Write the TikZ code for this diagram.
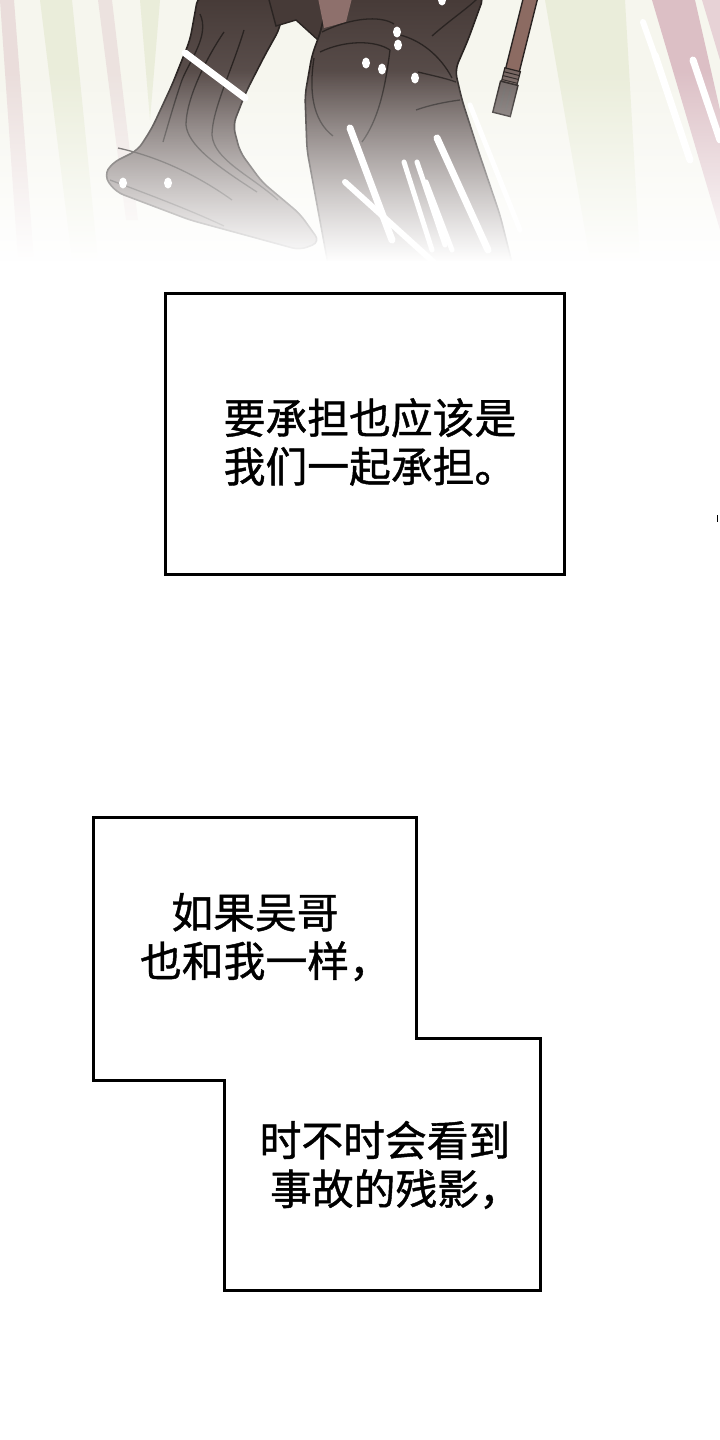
\documentclass[tikz,border=0pt]{standalone}
\usepackage{fontspec}
\newfontfamily\cjk[FakeBold=1]{Noto Sans CJK SC}
\usetikzlibrary{fadings}
\definecolor{legdark}{HTML}{463a37}
\definecolor{legmid}{HTML}{857a78}
\definecolor{inkline}{HTML}{2a2422}
\definecolor{stickbrown}{HTML}{8c6b62}
\definecolor{capgray}{HTML}{6e6462}
\definecolor{bgcream}{HTML}{f6f6ee}
\definecolor{streakpink}{HTML}{dcbfc5}
\definecolor{streakgreen}{HTML}{eaedda}
\definecolor{skinpink}{HTML}{8e706c}
\tikzfading[name=whiteout, top color=transparent!100, bottom color=transparent!0]

\begin{document}
\begin{tikzpicture}[x=1pt,y=-1pt,
  panel/.style={draw=black,line width=3pt},
  says/.style={font=\cjk\fontsize{41.8}{48.5}\selectfont,align=center,inner sep=0pt},
  leg/.style={draw=inkline,line width=1.6pt,rounded corners=8pt,top color=legdark,bottom color=legmid},
  crease/.style={draw=inkline,line width=1.3pt},
  swoosh/.style={white,line width=7pt,line cap=round},
  glint/.style={white}]
	\useasboundingbox (0,0) rectangle (720,1440);
	\fill[white] (0,0) rectangle (720,1440);
	\fill[bgcream] (0,0) rectangle (720,280);
	\fill[streakpink,opacity=.45] (0,0) -- (14,0) -- (34,260) -- (18,260) -- cycle;
	\fill[streakgreen] (40,0) -- (72,0) -- (98,260) -- (72,260) -- cycle;
	\fill[streakpink,opacity=.35] (98,0) -- (112,0) -- (138,220) -- (126,220) -- cycle;
	\fill[streakgreen] (140,0) -- (160,0) -- (150,120) -- cycle;
	\fill[streakgreen] (545,0) -- (625,0) -- (640,260) -- (590,260) -- cycle;
	\fill[streakpink] (652,0) -- (695,0) -- (720,110) -- (720,230) -- cycle;
	\fill[streakpink!70] (702,0) -- (720,0) -- (720,60) -- cycle;
	\draw[white,line width=6pt,line cap=round] (643,22) -- (660,70);
	\draw[white,line width=7pt,line cap=round] (655,55) -- (690,160);
	\draw[white,line width=7pt,line cap=round] (693,60) -- (720,140);
	\begin{scope}[shift={(531,-4)},rotate=-14]
		\filldraw[draw=inkline,fill=stickbrown,line width=1.4pt] (-7,0) rectangle (7,78);
		\filldraw[draw=inkline,fill=capgray!70!stickbrown,line width=1.2pt] (-8,76) rectangle (8,90);
		\foreach \r in {80,84,88}
			\draw[inkline,line width=1pt] (-8,\r) -- (8,\r);
		\filldraw[draw=inkline,fill=capgray,line width=1.4pt] (-9,90) rectangle (9,122);
		\draw[inkline!70,line width=2pt] (-3,95) -- (-3,116);
		\draw[inkline!70,line width=2pt] (3,95) -- (3,116);
	\end{scope}
	\filldraw[leg] (198,-4) -- (190,40) -- (172,85) -- (152,128) -- (138,150) -- (112,163) -- (104,176) -- (116,192) -- (190,220) -- (300,250) -- (320,242) -- (300,214) -- (262,182) -- (240,152) -- (233,125) -- (246,92) -- (265,55) -- (280,28) -- (284,-4) -- cycle;
	\filldraw[draw=inkline,line width=1.4pt,fill=legdark] (268,-4) -- (276,26) -- (296,20) -- (318,40) -- (330,-4) -- cycle;
	\filldraw[leg] (326,-4) -- (322,28) -- (312,55) -- (305,95) -- (307,150) -- (318,210) -- (330,275) -- (515,275) -- (500,215) -- (478,150) -- (462,100) -- (455,70) -- (468,40) -- (484,-4) -- cycle;
	\fill[skinpink] (318,-2) -- (352,-2) -- (346,22) -- (324,28) -- cycle;
	\draw[crease] (322,32) .. controls (350,18) and (380,15) .. (394,24);
	\draw[crease] (320,52) .. controls (345,40) and (375,40) .. (390,50);
	\draw[crease] (314,58) .. controls (309,90) and (312,120) .. (333,136);
	\draw[crease] (390,50) .. controls (385,90) and (378,120) .. (362,142);
	\draw[crease] (400,35) .. controls (420,40) and (440,55) .. (452,78);
	\draw[crease] (418,72) .. controls (430,75) and (445,78) .. (456,82);
	\draw[crease] (416,110) .. controls (430,105) and (445,102) .. (460,100);
	\draw[crease] (432,36) .. controls (450,20) and (468,8) .. (478,-2);
	\draw[crease] (200,14) .. controls (210,35) and (190,60) .. (182,80) .. controls (175,100) and (168,125) .. (163,142);
	\draw[crease] (224,32) .. controls (205,60) and (186,100) .. (186,125) .. controls (188,145) and (215,165) .. (257,192);
	\draw[crease] (244,30) .. controls (232,70) and (212,110) .. (212,135) .. controls (214,160) and (250,175) .. (278,200);
	\draw[crease] (118,148) .. controls (150,155) and (190,170) .. (232,200);
	\draw[crease] (110,180) .. controls (150,195) and (190,210) .. (224,226);
	\draw[swoosh] (185,53) -- (245,98);
	\draw[swoosh] (350,128) -- (392,240);
	\draw[swoosh] (437,138) -- (488,250);
	\draw[swoosh,line width=5pt] (404,162) -- (432,250);
	\draw[swoosh,line width=5pt] (417,162) -- (445,245);
	\draw[swoosh,line width=5pt] (426,182) -- (452,250);
	\draw[swoosh,line width=6pt] (345,182) -- (440,268);
	\draw[swoosh,line width=5pt] (470,105) -- (520,230);
	\foreach \gx/\gy in {397/32,398/45,366/63,382/69,415/78,442/0,123/183,168/183}
		\fill[glint] (\gx,\gy) circle [x radius=4pt,y radius=5.5pt];
	\fill[white,path fading=whiteout] (0,70) rectangle (720,262);
	\fill[white] (0,261) rectangle (720,290);
	\draw[line width=1.5pt] (717.5,515) -- (717.5,522);
	\draw[panel] (165,293) rectangle (564,574);
	\node[says] (share) at (370,442) {要承担也应该是\\我们一起承担。};
	\draw[panel] (93,817) -- (416,817) -- (416,1038) -- (540,1038) -- (540,1290) -- (224,1290) -- (224,1080) -- (93,1080) -- cycle;
	\node[says] (ifsame) at (255,937) {如果吴哥\\也和我一样，\kern-.5em};
	\node[says] (glimpse) at (385,1165) {时不时会看到\\事故的残影，\kern-.5em};
\end{tikzpicture}
\end{document}
